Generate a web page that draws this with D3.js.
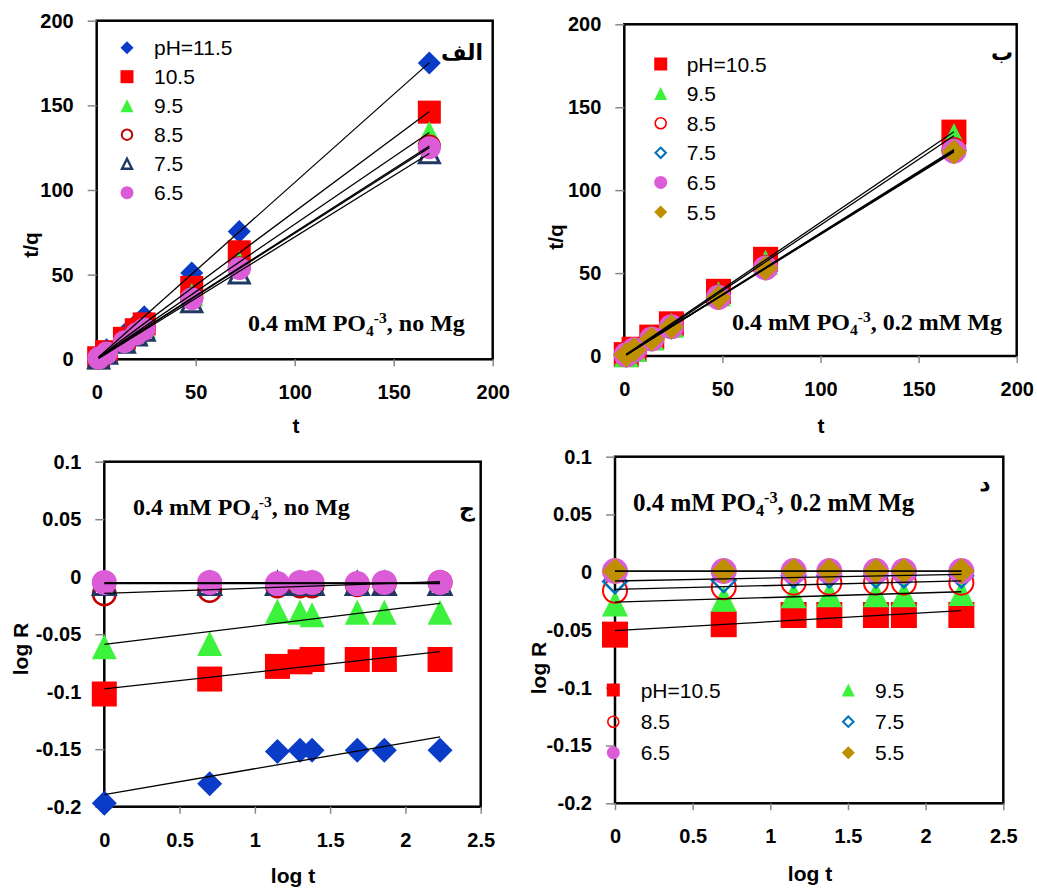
<!DOCTYPE html>
<html>
<head>
<meta charset="utf-8">
<script src="https://cdn.jsdelivr.net/npm/d3@7"></script>
<style>
  body { margin: 0; background: #fff; }
</style>
</head>
<body>
<div id="chart"></div>
<script>
var svgWidth = 1037;
var svgHeight = 888;

// Sampling times (h) and their logs
var timeNoMg = [1, 5, 14, 20, 24, 48, 72, 168];
var timeMg = [1, 5, 14, 24, 48, 72, 168];
var logTimeNoMg = [0, 0.70, 1.15, 1.30, 1.38, 1.68, 1.86, 2.23];
var logTimeMg = [0, 0.70, 1.15, 1.38, 1.68, 1.86, 2.23];

// Panel A: t/q, 0.4 mM PO4, no Mg
var tqNoMg_115 = [1.2, 5.6, 14.6, 20.9, 25.1, 51.0, 75.5, 175];
var tqNoMg_105 = [0.9, 4.5, 12.4, 17.5, 20.9, 42.5, 63.5, 146];
var tqNoMg_95 = [0.9, 4.3, 11.1, 15.8, 19.2, 38.2, 57.3, 134];
var tqNoMg_85 = [0.8, 3.8, 10.5, 15.1, 18.1, 36.1, 54.0, 126];
var tqNoMg_75 = [0.7, 3.6, 10.0, 14.4, 17.2, 34.0, 51.0, 122];
var tqNoMg_65 = [0.75, 3.7, 10.4, 14.9, 17.9, 35.8, 53.7, 125];

// Panel B: t/q, 0.4 mM PO4, 0.2 mM Mg
var tqMg_105 = [0.85, 4.1, 11.4, 19.4, 39.0, 58.3, 135];
var tqMg_95 = [0.8, 3.9, 10.9, 18.6, 37.5, 56.5, 133];
var tqMg_85 = [0.76, 3.8, 10.5, 17.8, 35.6, 53.5, 124.5];
var tqMg_75 = [0.75, 3.75, 10.4, 17.7, 35.4, 53.3, 124];
var tqMg_65 = [0.74, 3.7, 10.3, 17.7, 35.4, 53.1, 123.5];
var tqMg_55 = [0.74, 3.7, 10.3, 17.6, 35.2, 53.0, 123];

// Panel C: log R, no Mg
var logRNoMg_115 = [-0.197, -0.180, -0.152, -0.151, -0.151, -0.151, -0.151, -0.151];
var logRNoMg_105 = [-0.102, -0.089, -0.078, -0.074, -0.072, -0.072, -0.072, -0.072];
var logRNoMg_95 = [-0.061, -0.058, -0.030, -0.031, -0.033, -0.031, -0.031, -0.031];
var logRNoMg_85 = [-0.015, -0.012, -0.008, -0.008, -0.008, -0.007, -0.006, -0.005];
var logRNoMg_75 = [-0.006, -0.006, -0.006, -0.006, -0.006, -0.006, -0.006, -0.006];
var logRNoMg_65 = [-0.005, -0.005, -0.006, -0.005, -0.005, -0.006, -0.005, -0.005];

// Panel D: log R, 0.2 mM Mg
var logRMg_105 = [-0.054, -0.045, -0.037, -0.037, -0.037, -0.037, -0.037];
var logRMg_95 = [-0.027, -0.023, -0.020, -0.019, -0.019, -0.019, -0.018];
var logRMg_85 = [-0.016, -0.013, -0.009, -0.009, -0.009, -0.009, -0.009];
var logRMg_75 = [-0.008, -0.007, -0.003, -0.003, -0.003, -0.003, -0.003];
var logRMg_65 = [0.001, 0.001, 0.001, 0.001, 0.001, 0.001, 0.001];
var logRMg_55 = [0.001, 0.001, 0.001, 0.001, 0.001, 0.001, 0.001];

// Series labels
var labelsNoMg = ["pH=11.5", "10.5", "9.5", "8.5", "7.5", "6.5"];
var labelsMg = ["pH=10.5", "9.5", "8.5", "7.5", "6.5", "5.5"];

// Tick values and labels
var tTicks = [0, 50, 100, 150, 200];
var tTickLabels = ["0", "50", "100", "150", "200"];
var logTTicks = [0, 0.5, 1, 1.5, 2, 2.5];
var logTTickLabels = ["0", "0.5", "1", "1.5", "2", "2.5"];
var logRTicks = [-0.2, -0.15, -0.1, -0.05, 0, 0.05, 0.1];
var logRTickLabels = ["-0.2", "-0.15", "-0.1", "-0.05", "0", "0.05", "0.1"];

// Marker styles
var styles = {
  diamondBlue: {shape: "diamond", fill: "#0a3cc8", stroke: "none", sw: 0},
  squareRed: {shape: "square", fill: "#ff0000", stroke: "none", sw: 0},
  triGreen: {shape: "triangle", fill: "#3cf23c", stroke: "none", sw: 0},
  ringDarkRed: {shape: "circle", fill: "none", stroke: "#c00000", sw: 2.5},
  triNavy: {shape: "triangle", fill: "none", stroke: "#203864", sw: 3},
  dotPink: {shape: "circle", fill: "#dc5cd8", stroke: "none", sw: 0},
  ringRed: {shape: "circle", fill: "none", stroke: "#ff0000", sw: 2},
  diamondOpen: {shape: "diamond", fill: "none", stroke: "#0070c0", sw: 2.5},
  diamondGold: {shape: "diamond", fill: "#bf8f00", stroke: "none", sw: 0}
};

var shapeTypes = {
  square: {draw: function(c, s) { var h = s / 2; c.rect(-h, -h, s, s); }},
  diamond: {draw: function(c, s) { var h = s / 2; c.moveTo(0, -h); c.lineTo(h, 0); c.lineTo(0, h); c.lineTo(-h, 0); c.closePath(); }},
  triangle: {draw: function(c, s) { var h = s / 2; c.moveTo(0, -h); c.lineTo(h, h); c.lineTo(-h, h); c.closePath(); }},
  circle: {draw: function(c, s) { var r = s / 2; c.moveTo(r, 0); c.arc(0, 0, r, 0, 2 * Math.PI); }}
};

var svg = d3.select("#chart")
  .append("svg")
  .attr("width", svgWidth)
  .attr("height", svgHeight)
  .style("font-family", "'Liberation Sans', Arial, sans-serif");

function markerPath(style, size) {
  var s = style.fill === "none" ? size - style.sw : size;
  return d3.symbol(shapeTypes[style.shape], s)();
}

// least-squares trend line over the data range
function fitLine(xs, ys) {
  var mx = d3.mean(xs), my = d3.mean(ys);
  var sxy = d3.sum(xs, function(v, i) { return (v - mx) * (ys[i] - my); });
  var sxx = d3.sum(xs, function(v) { return (v - mx) * (v - mx); });
  var slope = sxy / sxx;
  var b = my - slope * mx;
  var x0 = d3.min(xs), x1 = d3.max(xs);
  return [[x0, b + slope * x0], [x1, b + slope * x1]];
}

function drawPanel(p) {
  var g = svg.append("g");
  var x = d3.scaleLinear().domain(p.xDomain).range([p.left, p.right]);
  var y = d3.scaleLinear().domain(p.yDomain).range([p.bottom, p.top]);

  // plot frame
  g.append("rect")
    .attr("x", p.left).attr("y", p.top)
    .attr("width", p.right - p.left).attr("height", p.bottom - p.top)
    .attr("fill", "none").attr("stroke", "#000").attr("stroke-width", 2.5);

  // axes
  var leftAxis = d3.axisLeft(y).tickValues(p.yTicks)
    .tickFormat(function(d, i) { return p.yLabels[i]; })
    .tickSize(9).tickPadding(14);
  var bottomAxis = d3.axisBottom(x).tickValues(p.xTicks)
    .tickFormat(function(d, i) { return p.xLabels[i]; })
    .tickSize(7).tickPadding(19);

  [g.append("g").attr("transform", `translate(${p.left},0)`).call(leftAxis),
   g.append("g").attr("transform", `translate(0,${p.bottom})`).call(bottomAxis)]
    .forEach(function(ax) {
      ax.select(".domain").remove();
      ax.selectAll(".tick line").attr("stroke", "#888").attr("stroke-width", 1.5);
      ax.selectAll(".tick text")
        .attr("fill", "#000")
        .style("font-family", "'Liberation Sans', Arial, sans-serif")
        .style("font-size", "20px")
        .style("font-weight", "bold");
    });

  // markers
  p.series.forEach(function(s) {
    var st = styles[s.style];
    g.append("g").selectAll("path")
      .data(s.values)
      .enter()
      .append("path")
      .attr("d", markerPath(st, p.markerSize))
      .attr("transform", function(d, i) { return `translate(${x(p.xValues[i])},${y(d)})`; })
      .attr("fill", st.fill)
      .attr("stroke", st.stroke)
      .attr("stroke-width", st.sw);
  });

  // trend lines
  var line = d3.line().x(function(d) { return x(d[0]); }).y(function(d) { return y(d[1]); });
  p.series.forEach(function(s) {
    g.append("path")
      .attr("d", line(fitLine(p.xValues, s.values)))
      .attr("fill", "none")
      .attr("stroke", "#000")
      .attr("stroke-width", 1.3);
  });

  // legend (panel C has none)
  if (p.legendPos) {
    p.series.forEach(function(s, i) {
      var pos = p.legendPos(i);
      var st = styles[s.style];
      g.append("path")
        .attr("d", markerPath(st, 13))
        .attr("transform", `translate(${pos[0]},${pos[1]})`)
        .attr("fill", st.fill)
        .attr("stroke", st.stroke)
        .attr("stroke-width", st.sw * 0.8);
      g.append("text")
        .attr("x", pos[2]).attr("y", pos[1])
        .attr("dy", "0.36em")
        .style("font-size", "21px")
        .text(s.name);
    });
  }

  // axis titles
  g.append("text")
    .attr("transform", `translate(${p.yTitlePos[0]},${p.yTitlePos[1]}) rotate(-90)`)
    .attr("text-anchor", "middle").attr("dy", "0.36em")
    .style("font-size", "21px").style("font-weight", "bold")
    .text(p.yTitle);
  g.append("text")
    .attr("x", p.xTitlePos[0]).attr("y", p.xTitlePos[1])
    .attr("text-anchor", "middle").attr("dy", "0.36em")
    .style("font-size", "21px").style("font-weight", "bold")
    .text(p.xTitle);

  // condition note
  var note = g.append("text")
    .attr("x", p.notePos[0]).attr("y", p.notePos[1])
    .style("font-family", "'Liberation Serif', 'Times New Roman', serif")
    .style("font-size", p.noteSize + "px")
    .style("font-weight", "bold");
  note.append("tspan").text("0.4 mM PO");
  note.append("tspan").attr("dy", 5).style("font-size", (p.noteSize * 0.65) + "px").text("4");
  note.append("tspan").attr("dy", -13).style("font-size", (p.noteSize * 0.65) + "px").text("-3");
  note.append("tspan").attr("dy", 8).text(p.noteTail);

  // panel letter
  g.append("text")
    .attr("x", p.letterPos[0]).attr("y", p.letterPos[1])
    .attr("text-anchor", "middle").attr("dy", "0.36em")
    .style("font-family", "'DejaVu Sans', sans-serif")
    .style("font-size", "22px").style("font-weight", "bold")
    .text(p.letter);
}

var stylesNoMg = ["diamondBlue", "squareRed", "triGreen", "ringDarkRed", "triNavy", "dotPink"];
var stylesMg = ["squareRed", "triGreen", "ringRed", "diamondOpen", "dotPink", "diamondGold"];

function makeSeries(labels, valueLists, styleKeys) {
  return labels.map(function(name, i) { return {name: name, values: valueLists[i], style: styleKeys[i]}; });
}

// Panel A
drawPanel({
  left: 96.7, right: 492.7, top: 20.7, bottom: 359.3,
  xDomain: [0, 200], yDomain: [0, 200],
  xTicks: tTicks, xLabels: tTickLabels, yTicks: tTicks, yLabels: tTickLabels,
  xValues: timeNoMg,
  series: makeSeries(labelsNoMg, [tqNoMg_115, tqNoMg_105, tqNoMg_95, tqNoMg_85, tqNoMg_75, tqNoMg_65], stylesNoMg),
  markerSize: 23,
  legendPos: function(i) { return [127, 47.7 + i * 29, 154]; },
  yTitle: "t/q", yTitlePos: [30, 245],
  xTitle: "t", xTitlePos: [296, 425],
  notePos: [248, 331], noteSize: 24, noteTail: ", no Mg",
  letter: "الف", letterPos: [462, 52]
});

// Panel B
drawPanel({
  left: 624.3, right: 1016.7, top: 24.3, bottom: 356,
  xDomain: [0, 200], yDomain: [0, 200],
  xTicks: tTicks, xLabels: tTickLabels, yTicks: tTicks, yLabels: tTickLabels,
  xValues: timeMg,
  series: makeSeries(labelsMg, [tqMg_105, tqMg_95, tqMg_85, tqMg_75, tqMg_65, tqMg_55], stylesMg),
  markerSize: 25,
  legendPos: function(i) { return [660.7, 64 + i * 29.6, 686.7]; },
  yTitle: "t/q", yTitlePos: [555, 237],
  xTitle: "t", xTitlePos: [821, 425],
  notePos: [732, 330], noteSize: 24, noteTail: ", 0.2 mM Mg",
  letter: "ب", letterPos: [1002, 52]
});

// Panel C
drawPanel({
  left: 104.3, right: 480.7, top: 461.7, bottom: 806.7,
  xDomain: [0, 2.5], yDomain: [-0.2, 0.1],
  xTicks: logTTicks, xLabels: logTTickLabels, yTicks: logRTicks, yLabels: logRTickLabels,
  xValues: logTimeNoMg,
  series: makeSeries(labelsNoMg, [logRNoMg_115, logRNoMg_105, logRNoMg_95, logRNoMg_85, logRNoMg_75, logRNoMg_65], stylesNoMg),
  markerSize: 25,
  legendPos: null,
  yTitle: "log R", yTitlePos: [20, 649],
  xTitle: "log t", xTitlePos: [293, 875],
  notePos: [133, 515], noteSize: 24, noteTail: ", no Mg",
  letter: "ج", letterPos: [467, 508]
});

// Panel D
drawPanel({
  left: 615, right: 1003.3, top: 456.7, bottom: 803.3,
  xDomain: [0, 2.5], yDomain: [-0.2, 0.1],
  xTicks: logTTicks, xLabels: logTTickLabels, yTicks: logRTicks, yLabels: logRTickLabels,
  xValues: logTimeMg,
  series: makeSeries(labelsMg, [logRMg_105, logRMg_95, logRMg_85, logRMg_75, logRMg_65, logRMg_55], stylesMg),
  markerSize: 26,
  legendPos: function(i) {
    var col = i % 2, row = Math.floor(i / 2);
    return [[613.3, 848.3][col], [690, 721.7, 752.7][row], [640.7, 875][col]];
  },
  yTitle: "log R", yTitlePos: [538, 668],
  xTitle: "log t", xTitlePos: [810, 873],
  notePos: [633, 511], noteSize: 25, noteTail: ", 0.2 mM Mg",
  letter: "د", letterPos: [985, 483]
});
</script>
</body>
</html>
